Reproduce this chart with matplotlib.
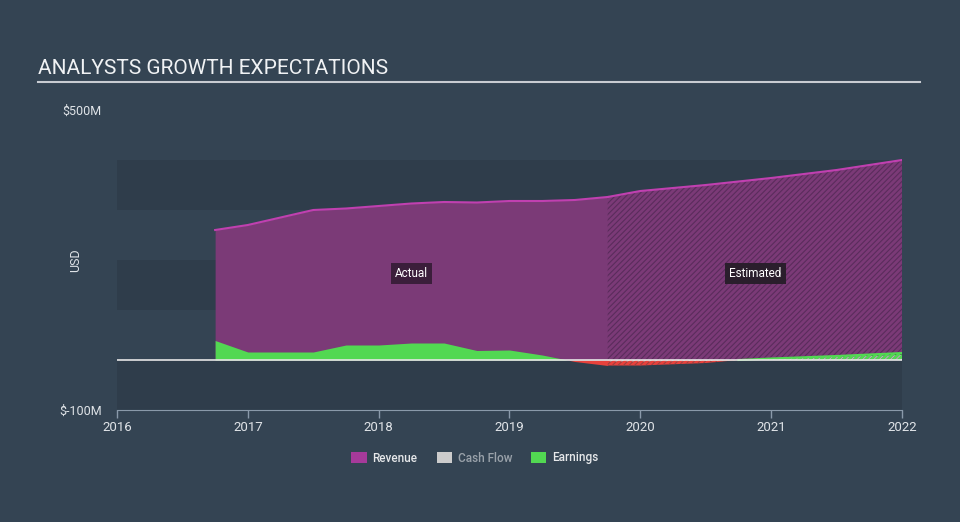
import matplotlib
matplotlib.use("Agg")
import matplotlib.pyplot as plt
from matplotlib.patches import Patch
from matplotlib.lines import Line2D
import numpy as np

plt.rcParams['font.family'] = ['Roboto', 'DejaVu Sans']
plt.rcParams['hatch.linewidth'] = 0.8

# actual figures (USD millions)
act_x = [2016.75, 2017.0, 2017.25, 2017.5, 2017.75, 2018.0, 2018.25, 2018.5, 2018.75, 2019.0, 2019.25, 2019.5, 2019.75]
act_revenue = [260, 270, 285, 300, 303, 308, 313, 316, 315, 318, 318, 320, 326]
act_earnings = [39, 16, 16, 16, 30, 30, 34, 34, 19, 20, 10, -3, -11]

# analyst estimates
est_x = [2019.75, 2020.0, 2020.5, 2020.75, 2021.0, 2021.5, 2022.0]
est_revenue = [326, 338, 350, 357, 364, 380, 400]
est_earnings = [-11, -11, -6, 0, 3, 8, 14]
est_cashflow = [-3, -3, -2, 0, 3, 6, 10]

years = [2016, 2017, 2018, 2019, 2020, 2021, 2022]

bg = '#344453'
band = '#2f3d4b'
rev_fill = '#7b3a77'
rev_line = '#c040b0'
green = '#52d852'
red = '#e8423c'
grid_c = '#8a9aaa'

fig = plt.figure(figsize=(9.6, 5.22), dpi=100, facecolor=bg)
ax = fig.add_axes([117/960, 1-410/522, (902-117)/960, 300/522])
ax.set_facecolor(bg)

for lo in (-100, 100, 300):
    ax.axhspan(lo, lo + 100, color=band, lw=0, zorder=0)

ax.axhline(0, color='#e6e6e6', lw=1.2, zorder=5)

# actual areas
ax.fill_between(act_x, 0, act_revenue, color=rev_fill, lw=0, zorder=1)
ax.plot(act_x, act_revenue, color=rev_line, lw=1.5, zorder=4)
ae = np.array(act_earnings, dtype=float)
ax.fill_between(act_x, 0, ae, where=ae >= 0, interpolate=True, color=green, lw=0, zorder=2)
ax.fill_between(act_x, 0, ae, where=ae <= 0, interpolate=True, color=red, lw=0, zorder=2)

# estimated areas (hatched)
ax.fill_between(est_x, 0, est_revenue, facecolor=rev_fill, edgecolor='#5a2c5c',
                hatch='//////', lw=0, zorder=1)
ax.plot(est_x, est_revenue, color=rev_line, lw=1.5, zorder=4)
ee = np.array(est_earnings, dtype=float)
ax.fill_between(est_x, 0, ee, where=ee >= 0, interpolate=True, facecolor=green,
                edgecolor='#3a7a44', hatch='//////', lw=0, zorder=2)
ax.fill_between(est_x, 0, ee, where=ee <= 0, interpolate=True, facecolor=red,
                edgecolor='#a04040', hatch='//////', lw=0, zorder=2)
ax.plot(est_x, np.where(ee >= 0, ee, np.nan), color=green, lw=1.5, zorder=4)
ax.fill_between(est_x, 0, est_cashflow, facecolor='none', edgecolor='#bbbbbb',
                hatch='//////', lw=0, zorder=3)

ax.text(2018.25, 173, 'Actual', color='white', fontsize=8.5, ha='center', va='center',
        bbox=dict(facecolor='#3b1e3b', edgecolor='none', pad=3), zorder=6)
ax.text(2020.88, 173, 'Estimated', color='white', fontsize=8.5, ha='center', va='center',
        bbox=dict(facecolor='#2a1e2c', edgecolor='none', pad=3), zorder=6)

ax.set_xlim(2016, 2022)
ax.set_ylim(-100, 500)
ax.set_xticks(years)
ax.set_xticklabels([str(y) for y in years], color='#e0e4e8', fontsize=9.5)
ax.set_yticks([-100, 500])
ax.set_yticklabels(['$-100M', '$500M'], color='#e0e4e8', fontsize=9)
ax.tick_params(axis='y', length=0, pad=11)
ax.tick_params(axis='x', length=6, color=grid_c, width=1, pad=2)
for s in ('top', 'right', 'left'):
    ax.spines[s].set_visible(False)
ax.spines['bottom'].set_color(grid_c)
ax.set_ylabel('USD', color='#e0e4e8', fontsize=9)
ax.yaxis.set_label_coords(-0.045, 0.5)

fig.text(38/960, 1-68/522, 'ANALYSTS GROWTH EXPECTATIONS', color='#f0f2f4',
         fontsize=15, ha='left', va='center')
fig.add_artist(Line2D([38/960, 920/960], [1-82/522, 1-82/522], color='#c8ccd2',
                      lw=1.5, transform=fig.transFigure))

handles = [Patch(facecolor='#a63a9a', edgecolor='none'),
           Patch(facecolor='#cccccc', edgecolor='none'),
           Patch(facecolor=green, edgecolor='none')]
leg = fig.legend(handles, ['Revenue', 'Cash Flow', 'Earnings'], loc='center',
                 bbox_to_anchor=(475/960, 1-458/522), ncol=3, frameon=False,
                 prop={'size': 8.5, 'weight': 'medium'}, handlelength=1.3,
                 handleheight=1.1, columnspacing=1.6, handletextpad=0.5)
for t, c in zip(leg.get_texts(), ['#e6e8ea', '#9aa2aa', '#e6e8ea']):
    t.set_color(c)

fig.savefig('out.png', dpi=100, facecolor=bg)
